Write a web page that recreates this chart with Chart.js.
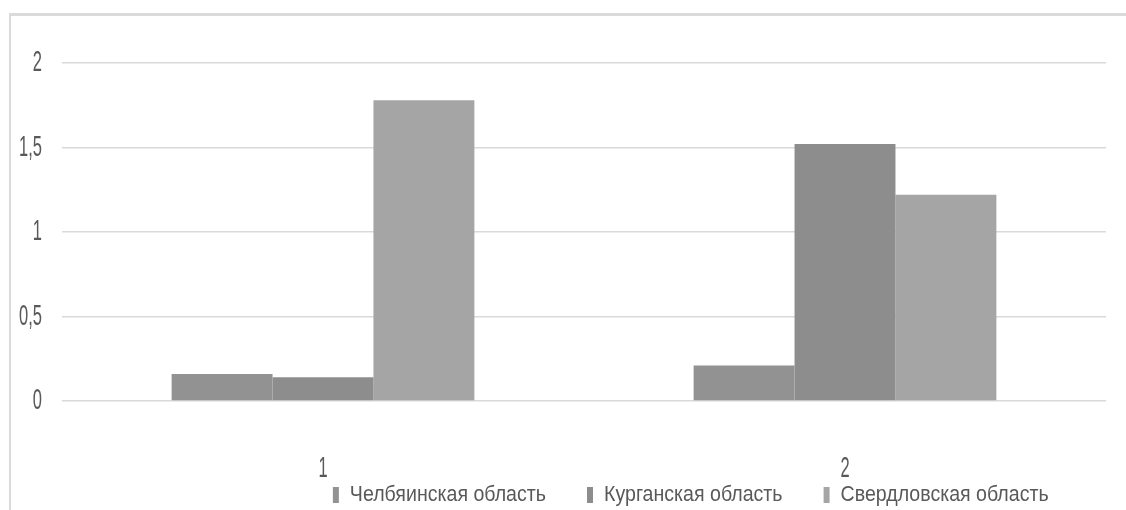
<!DOCTYPE html>
<html>
<head>
<meta charset="utf-8">
<script src="https://cdn.jsdelivr.net/npm/chart.js@4/dist/chart.umd.min.js"></script>
<style>
  html, body { margin: 0; padding: 0; background: #fff; overflow: hidden; width: 1126px; height: 510px; }
  #frame { position: absolute; left: 9px; top: 13px; width: 1300px; height: 700px;
           border-top: 3px solid #dadada; border-left: 2px solid #dadada; }
  #c { position: absolute; left: 0; top: 0; }
</style>
</head>
<body>
<div id="frame"></div>
<canvas id="c" width="1126" height="516"></canvas>
<script>
// Categories and series values
const categories = ['1', '2'];
const chelyabinsk = [0.16, 0.21];
const kurgan = [0.14, 1.52];
const sverdlovsk = [1.78, 1.22];
const seriesNames = ['Челбяинская область', 'Курганская область', 'Свердловская область'];
const yTicks = [0, 0.5, 1, 1.5, 2];

const TICK_SIZE = 30;
const LEGEND_SIZE = 22;
// Horizontal squeeze per font size, giving a condensed face
const SQUEEZE = { [TICK_SIZE]: 0.55, [LEGEND_SIZE]: 0.89 };
const NBSP = '\u00a0';

const canvas = document.getElementById('c');
const ctx = canvas.getContext('2d');

(function condenseText(c) {
  const fill = c.fillText, measure = c.measureText;
  const factor = () => {
    const m = /(\d+(?:\.\d+)?)px/.exec(c.font);
    return m ? (SQUEEZE[Math.round(+m[1])] || 1) : 1;
  };
  c.fillText = function (t, x, y, w) {
    const s = factor();
    if (s === 1) return fill.call(this, t, x, y, w);
    this.save();
    this.translate(x, y);
    this.scale(s, 1);
    fill.call(this, t, 0, 0);
    this.restore();
  };
  c.measureText = function (t) {
    const m = measure.call(this, t);
    const s = factor();
    if (s === 1) return m;
    return {
      width: m.width * s,
      actualBoundingBoxAscent: m.actualBoundingBoxAscent,
      actualBoundingBoxDescent: m.actualBoundingBoxDescent,
      actualBoundingBoxLeft: m.actualBoundingBoxLeft * s,
      actualBoundingBoxRight: m.actualBoundingBoxRight * s
    };
  };
})(ctx);

const colors = ['#929292', '#8d8d8d', '#a5a5a5'];
const values = [chelyabinsk, kurgan, sverdlovsk];

new Chart(ctx, {
  type: 'bar',
  data: {
    labels: categories,
    datasets: seriesNames.map((name, i) => ({
      label: name,
      data: values[i],
      backgroundColor: colors[i],
      borderWidth: 0,
      categoryPercentage: 0.58,
      barPercentage: 1.0
    }))
  },
  options: {
    responsive: false,
    animation: false,
    devicePixelRatio: 1,
    layout: { padding: { top: 63, right: 20, left: 0, bottom: 0 } },
    plugins: {
      tooltip: { enabled: false },
      legend: {
        position: 'bottom',
        align: 'end',
        labels: {
          boxWidth: 6,
          boxHeight: 16,
          padding: 3,
          color: '#595959',
          font: { family: 'Liberation Sans', size: LEGEND_SIZE },
          // wide gaps between entries, kept as trailing blank space
          generateLabels: chart => {
            const items = Chart.defaults.plugins.legend.labels.generateLabels(chart);
            items.forEach((it, i) => {
              it.lineWidth = 0;
              it.text = it.text + NBSP.repeat(i === items.length - 1 ? 10 : 7);
            });
            return items;
          }
        }
      }
    },
    scales: {
      x: {
        grid: { display: false },
        border: { display: false },
        ticks: {
          color: '#595959',
          padding: 42,
          font: { family: 'Liberation Sans', size: TICK_SIZE }
        },
        afterFit: s => { s.height = 80; }
      },
      y: {
        min: yTicks[0],
        max: yTicks[yTicks.length - 1],
        afterBuildTicks: s => { s.ticks = yTicks.map(v => ({ value: v })); },
        grid: { color: '#d9d9d9', lineWidth: 1.5, drawTicks: false },
        border: { display: false },
        ticks: {
          color: '#595959',
          padding: 20,
          font: { family: 'Liberation Sans', size: TICK_SIZE },
          callback: v => String(v).replace('.', ',')
        },
        afterFit: s => { s.width = 62; }
      }
    }
  }
});
</script>
</body>
</html>
